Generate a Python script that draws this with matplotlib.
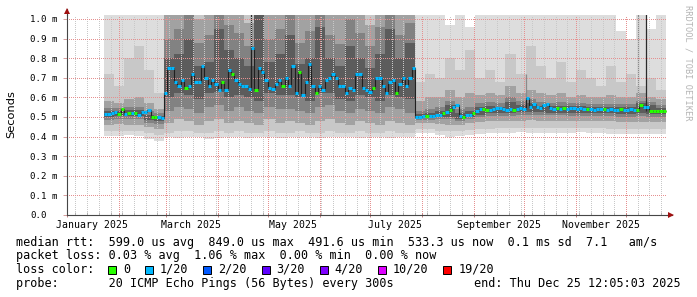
import numpy as np
import pandas as pd
import matplotlib
matplotlib.use("Agg")
import matplotlib.pyplot as plt
import matplotlib.dates as mdates
from matplotlib.patches import Rectangle
from matplotlib.transforms import blended_transform_factory

# graph window
t_start = "2025-01-01"
t_end = "2025-12-25 12:05"

# median rtt (ms), one value per 2-day bin from 2025-01-23
median_start = "2025-01-23"
median_jan_feb = [0.515, 0.515, 0.52, 0.525, 0.515, 0.54, 0.515, 0.52, 0.52, 0.52,
                  0.51, 0.525, 0.525, 0.535, 0.50, 0.50, 0.50, 0.495]
median_mar_jul = [0.62, 0.75, 0.75, 0.68, 0.66, 0.69, 0.65, 0.66, 0.72, 0.68,
                  0.68, 0.76, 0.70, 0.66, 0.69, 0.67, 0.64, 0.68, 0.64, 0.74,
                  0.72, 0.69, 0.67, 0.66, 0.66, 0.645, 0.85, 0.64, 0.75, 0.73,
                  0.69, 0.65, 0.645, 0.67, 0.69, 0.66, 0.70, 0.66, 0.76, 0.62,
                  0.73, 0.61, 0.68, 0.77, 0.66, 0.62, 0.66, 0.64, 0.69, 0.70,
                  0.72, 0.70, 0.66, 0.66, 0.62, 0.65, 0.64, 0.72, 0.72, 0.65,
                  0.64, 0.63, 0.65, 0.70, 0.70, 0.66, 0.62, 0.68, 0.69, 0.62,
                  0.67, 0.70, 0.66, 0.70, 0.75]
median_aug_dec = [0.50, 0.50, 0.505, 0.505, 0.505, 0.505, 0.51, 0.51, 0.52, 0.525,
                  0.535, 0.55, 0.56, 0.505, 0.50, 0.51, 0.51, 0.52, 0.53, 0.54,
                  0.54, 0.535, 0.535, 0.54, 0.545, 0.545, 0.54, 0.535, 0.54, 0.535,
                  0.54, 0.545, 0.54, 0.595, 0.55, 0.565, 0.55, 0.545, 0.56, 0.565,
                  0.545, 0.54, 0.545, 0.54, 0.545, 0.54, 0.545, 0.545, 0.54, 0.545,
                  0.54, 0.54, 0.54, 0.535, 0.54, 0.54, 0.54, 0.535, 0.54, 0.535,
                  0.535, 0.54, 0.535, 0.535, 0.54, 0.535, 0.535, 0.56, 0.55, 0.55,
                  0.53, 0.53, 0.53, 0.53, 0.53]

# lost pings out of 20 for each median bin
loss_jan_feb = [1, 1, 1, 1, 0, 0, 1, 0, 1, 0, 1, 1, 1, 1, 0, 0, 1, 1]
loss_mar_jul = [1, 1, 1, 1, 1, 1, 0, 1, 1, 1, 1, 1, 1, 1, 1, 1, 1, 0, 1, 1,
                0, 1, 1, 1, 1, 1, 1, 0, 1, 1, 1, 1, 1, 1, 1, 0, 1, 1, 1, 1,
                0, 1, 1, 1, 1, 0, 1, 1, 1, 1, 1, 1, 1, 1, 1, 1, 1, 1, 1, 1,
                1, 1, 0, 1, 1, 1, 1, 1, 1, 0, 1, 1, 1, 1, 1]
loss_aug_dec = [1, 1, 1, 0, 1, 1, 1, 1, 0, 1, 0, 1, 1, 1, 0, 1, 1, 0, 1, 1,
                0, 0, 1, 1, 1, 1, 1, 1, 1, 0, 1, 1, 1, 1, 1, 1, 1, 1, 1, 1,
                1, 1, 0, 1, 0, 1, 1, 1, 1, 1, 1, 0, 1, 1, 1, 1, 0, 1, 1, 1,
                1, 0, 1, 1, 1, 1, 0, 0, 1, 1, 0, 0, 0, 0, 0]

# smoke: nested ping spread bands (ms), 6-day bins from 2025-01-23, outer -> inner
smoke_start = "2025-01-23"
smoke1_lo = [0.405, 0.405, 0.41, 0.405, 0.39, 0.38,
             0.40, 0.395, 0.40, 0.40, 0.39, 0.395, 0.40, 0.40, 0.395, 0.40, 0.40, 0.395, 0.40,
             0.40, 0.40, 0.395, 0.40, 0.40, 0.40, 0.395, 0.40, 0.40, 0.395, 0.40, 0.40,
             0.42, 0.42, 0.41, 0.40, 0.405, 0.41, 0.415, 0.42, 0.42, 0.42, 0.425, 0.42, 0.42,
             0.42, 0.42, 0.42, 0.425, 0.42, 0.42, 0.415, 0.415, 0.415, 0.415, 0.415, 0.415]
smoke1_hi = [1.05, 1.05, 1.05, 1.05, 1.05, 1.05,
             1.05, 1.05, 1.05, 1.05, 1.05, 1.05, 1.05, 1.05, 1.05, 1.05, 1.05, 1.05, 1.05,
             1.05, 1.05, 1.05, 1.05, 1.05, 1.05, 1.05, 1.05, 1.05, 1.05, 1.05, 1.05,
             1.05, 1.05, 1.05, 0.97, 1.05, 0.96, 1.05, 1.05, 1.05, 1.05, 1.05, 1.05, 1.05,
             1.05, 1.05, 1.05, 1.05, 1.05, 1.05, 1.05, 0.94, 0.90, 1.05, 0.95, 1.05]
smoke2_lo = [0.43, 0.43, 0.43, 0.43, 0.42, 0.41,
             0.42, 0.43, 0.43, 0.42, 0.42, 0.43, 0.42, 0.43, 0.42, 0.42, 0.43, 0.42, 0.42,
             0.43, 0.42, 0.42, 0.43, 0.42, 0.42, 0.43, 0.42, 0.42, 0.43, 0.42, 0.42,
             0.44, 0.44, 0.43, 0.43, 0.43, 0.435, 0.44, 0.44, 0.445, 0.445, 0.445, 0.445, 0.445,
             0.445, 0.445, 0.445, 0.445, 0.445, 0.445, 0.44, 0.44, 0.44, 0.44, 0.44, 0.44]
smoke2_hi = [0.72, 0.66, 0.80, 0.86, 0.74, 0.62,
             1.05, 1.05, 1.05, 1.05, 1.05, 1.05, 1.05, 1.05, 1.05, 1.05, 1.05, 1.05, 1.05,
             1.05, 1.05, 1.05, 1.05, 1.05, 1.05, 1.05, 1.05, 1.05, 1.05, 1.05, 1.05,
             0.68, 0.72, 0.70, 0.80, 0.74, 0.84, 0.70, 0.74, 0.68, 0.82, 0.72, 0.86, 0.76,
             0.70, 0.78, 0.68, 0.74, 0.70, 0.66, 0.76, 0.68, 0.72, 0.66, 0.70, 0.64]
smoke3_lo = [0.46, 0.465, 0.46, 0.46, 0.45, 0.44,
             0.47, 0.49, 0.48, 0.46, 0.48, 0.49, 0.47, 0.48, 0.47, 0.46, 0.49, 0.47, 0.48,
             0.47, 0.46, 0.48, 0.49, 0.47, 0.46, 0.48, 0.47, 0.46, 0.48, 0.47, 0.46,
             0.47, 0.47, 0.465, 0.46, 0.46, 0.47, 0.475, 0.48, 0.48, 0.48, 0.48, 0.485, 0.48,
             0.48, 0.48, 0.48, 0.48, 0.48, 0.48, 0.48, 0.475, 0.475, 0.475, 0.475, 0.475]
smoke3_hi = [0.58, 0.57, 0.59, 0.60, 0.57, 0.54,
             1.05, 1.05, 1.05, 1.00, 1.05, 1.05, 1.05, 1.05, 0.98, 1.05, 1.05, 1.05, 1.05,
             1.02, 1.05, 1.05, 1.05, 1.05, 1.05, 1.05, 0.97, 1.05, 1.05, 1.05, 1.05,
             0.58, 0.60, 0.60, 0.64, 0.60, 0.62, 0.61, 0.62, 0.61, 0.66, 0.62, 0.64, 0.62,
             0.61, 0.62, 0.60, 0.61, 0.60, 0.60, 0.61, 0.60, 0.60, 0.62, 0.60, 0.59]
smoke4_lo = [0.485, 0.49, 0.49, 0.49, 0.47, 0.465,
             0.53, 0.55, 0.54, 0.52, 0.55, 0.56, 0.53, 0.55, 0.53, 0.52, 0.55, 0.54, 0.54,
             0.53, 0.52, 0.55, 0.56, 0.53, 0.52, 0.54, 0.53, 0.52, 0.55, 0.54, 0.52,
             0.485, 0.485, 0.49, 0.49, 0.48, 0.49, 0.50, 0.505, 0.505, 0.505, 0.51, 0.51, 0.51,
             0.51, 0.51, 0.505, 0.505, 0.505, 0.505, 0.505, 0.50, 0.50, 0.505, 0.50, 0.50]
smoke4_hi = [0.545, 0.545, 0.55, 0.55, 0.53, 0.52,
             0.90, 0.95, 1.05, 0.88, 0.92, 1.05, 0.97, 0.93, 0.86, 1.05, 0.90, 0.95, 1.05,
             0.88, 0.94, 1.05, 0.92, 0.87, 1.00, 0.93, 0.86, 0.96, 1.05, 0.92, 0.98,
             0.53, 0.54, 0.55, 0.58, 0.54, 0.55, 0.57, 0.575, 0.57, 0.60, 0.58, 0.59, 0.575,
             0.57, 0.575, 0.57, 0.57, 0.565, 0.565, 0.565, 0.565, 0.565, 0.58, 0.575, 0.56]
smoke5_lo = [0.50, 0.505, 0.505, 0.505, 0.485, 0.48,
             0.60, 0.62, 0.61, 0.59, 0.62, 0.63, 0.60, 0.61, 0.60, 0.58, 0.62, 0.61, 0.61,
             0.60, 0.58, 0.62, 0.62, 0.59, 0.58, 0.61, 0.60, 0.58, 0.61, 0.60, 0.59,
             0.495, 0.495, 0.50, 0.50, 0.49, 0.50, 0.51, 0.52, 0.52, 0.52, 0.525, 0.525, 0.525,
             0.52, 0.52, 0.52, 0.52, 0.52, 0.52, 0.52, 0.515, 0.515, 0.52, 0.515, 0.515]
smoke5_hi = [0.53, 0.53, 0.535, 0.535, 0.51, 0.505,
             0.80, 0.82, 0.90, 0.76, 0.78, 0.95, 0.84, 0.80, 0.76, 1.05, 0.78, 0.82, 0.92,
             0.77, 0.80, 0.96, 0.80, 0.76, 0.86, 0.80, 0.75, 0.82, 0.95, 0.80, 0.88,
             0.515, 0.52, 0.53, 0.56, 0.52, 0.53, 0.55, 0.555, 0.55, 0.575, 0.56, 0.57, 0.555,
             0.555, 0.555, 0.555, 0.555, 0.55, 0.55, 0.55, 0.55, 0.55, 0.57, 0.56, 0.545]

# single-bin outliers that show up as thin lines
dark_spike_dates = ["2025-04-21", "2025-12-13"]
dark_spike_lo = [0.62, 0.53]
dark_spike_hi = [1.05, 1.05]
pale_spike_dates = ["2025-10-02", "2025-12-08"]
pale_spike_lo = [0.55, 0.55]
pale_spike_hi = [0.72, 1.05]

ytick_values = [0.0, 0.1, 0.2, 0.3, 0.4, 0.5, 0.6, 0.7, 0.8, 0.9, 1.0]
ytick_labels = ["0.0", "0.1 m", "0.2 m", "0.3 m", "0.4 m", "0.5 m",
                "0.6 m", "0.7 m", "0.8 m", "0.9 m", "1.0 m"]
label_months = [1, 3, 5, 7, 9, 11]
month_labels = ["January 2025", "March 2025", "May 2025", "July 2025",
                "September 2025", "November 2025"]

loss_levels = [0, 1, 2, 3, 4, 10, 19]
loss_names = ["0", "1/20", "2/20", "3/20", "4/20", "10/20", "19/20"]
loss_colors = ["#26ff00", "#00b8ff", "#0059ff", "#5e00ff", "#7e00ff", "#dd00ff", "#ff0000"]

legend_rows = [
    "median rtt:  599.0 us avg  849.0 us max  491.6 us min  533.3 us now  0.1 ms sd  7.1   am/s",
    "packet loss: 0.03 % avg  1.06 % max  0.00 % min  0.00 % now",
    "loss color:",
    "probe:       20 ICMP Echo Pings (56 Bytes) every 300s",
]
end_text = "end: Thu Dec 25 12:05:03 2025"

MONO = "DejaVu Sans Mono"
W, H = 697, 297
AXIS_COL = "#464646"


def color_for_loss(n):
    c = loss_colors[0]
    for lvl, col in zip(loss_levels, loss_colors):
        if n >= lvl:
            c = col
    return c


fig = plt.figure(figsize=(W / 100, H / 100), dpi=100)
fig.patch.set_facecolor("white")
ax = fig.add_axes([67 / W, 82 / H, 600 / W, 200 / H])

# smoke
s_edges = mdates.date2num(pd.date_range(smoke_start, periods=len(smoke1_lo) + 1, freq="6D"))
bands = [(smoke1_lo, smoke1_hi, "#dddddd"), (smoke2_lo, smoke2_hi, "#c8c8c8"),
         (smoke3_lo, smoke3_hi, "#a2a2a2"), (smoke4_lo, smoke4_hi, "#828282"),
         (smoke5_lo, smoke5_hi, "#5c5c5c")]
for lo, hi, col in bands:
    ax.stairs(np.array(hi), s_edges, baseline=np.array(lo), fill=True,
              color=col, lw=0, zorder=1)

ax.vlines(mdates.date2num(pd.to_datetime(pale_spike_dates)), pale_spike_lo, pale_spike_hi,
          color="#8a8a8a", lw=0.9, zorder=1.5)
ax.vlines(mdates.date2num(pd.to_datetime(dark_spike_dates)), dark_spike_lo, dark_spike_hi,
          color="#2a2a2a", lw=0.9, zorder=1.5)

# median line coloured by loss
med = np.array(median_jan_feb + median_mar_jul + median_aug_dec)
loss = loss_jan_feb + loss_mar_jul + loss_aug_dec
m_edges = mdates.date2num(pd.date_range(median_start, periods=len(med) + 1, freq="2D"))
ax.stairs(med, m_edges, baseline=None, color="#202020", lw=0.8, zorder=4)
ax.hlines(med, m_edges[:-1], m_edges[1:], colors=[color_for_loss(n) for n in loss],
          lw=2.2, zorder=5)

ax.set_xlim(mdates.date2num(pd.Timestamp(t_start)), mdates.date2num(pd.Timestamp(t_end)))
ax.set_ylim(0, 1.0204)

# grid: 1px dots like rrdtool
ax.set_xticks(mdates.date2num(pd.date_range(t_start, t_end, freq="MS")))
ax.set_xticks(mdates.date2num(pd.date_range("2025-01-06", t_end, freq="7D")), minor=True)
ax.set_yticks(ytick_values)
ax.set_axisbelow(False)
ax.grid(which="major", color="#e59090", linestyle=(0, (1, 2)), lw=0.72, antialiased=False)
ax.grid(which="minor", axis="x", color="#c8c8c8", linestyle=(0, (1, 2)), lw=0.72,
        antialiased=False)
ax.tick_params(labelbottom=False, labelleft=False)
ax.tick_params(axis="x", which="major", length=3, direction="inout", color="#c08080", width=0.7)
ax.tick_params(axis="x", which="minor", length=2, direction="in", color="#b0b0b0", width=0.7)
ax.tick_params(axis="y", which="major", length=3, direction="out", color="#d8a0a0", width=0.7)

for side in ["top", "right"]:
    ax.spines[side].set_visible(False)
for side in ["left", "bottom"]:
    ax.spines[side].set_color(AXIS_COL)
    ax.spines[side].set_linewidth(0.8)
    ax.spines[side].set_zorder(6)

# axis extensions with arrows
ax.plot([0, 0], [1, 1.03], transform=ax.transAxes, color=AXIS_COL, lw=0.8, clip_on=False)
ax.plot([1, 1.008], [0, 0], transform=ax.transAxes, color=AXIS_COL, lw=0.8, clip_on=False)
ax.plot([0], [1.022], transform=ax.transAxes, marker="^", ms=4, color="#a01010",
        clip_on=False, mew=0)
ax.plot([1.006], [0], transform=ax.transAxes, marker=">", ms=4, color="#a01010",
        clip_on=False, mew=0)

# tick labels
ylab_tr = blended_transform_factory(fig.transFigure, ax.transData)
for v, lab in zip(ytick_values, ytick_labels):
    ax.text(30 / W, v, lab, transform=ylab_tr, ha="left", va="center_baseline",
            family=MONO, fontsize=6.6)
xlab_tr = blended_transform_factory(ax.transData, fig.transFigure)
for m, lab in zip(label_months, month_labels):
    ax.text(mdates.date2num(pd.Timestamp(2025, m, 16)), 1 - 227.8 / H, lab,
            transform=xlab_tr, ha="center", va="baseline", family=MONO, fontsize=7.1)

fig.text(11 / W, 1 - 114 / H, "Seconds", rotation=90, ha="center", va="center",
         family="DejaVu Sans", fontsize=8.2)
fig.text(688 / W, 1 - 5 / H, "RRDTOOL / TOBI OETIKER", rotation=270, ha="center",
         va="top", family=MONO, fontsize=6.2, color="#b4b4b4")

# legend text
baselines = [245.6, 259.3, 273.0, 286.8]
for row, yb in zip(legend_rows, baselines):
    fig.text(16 / W, 1 - yb / H, row, ha="left", va="baseline", family=MONO, fontsize=8.45)
fig.text(681 / W, 1 - baselines[3] / H, end_text, ha="right", va="baseline",
         family=MONO, fontsize=8.45)

bx = 108
for name, col in zip(loss_names, loss_colors):
    fig.add_artist(Rectangle((bx / W, 1 - 273.5 / H), 8 / W, 8 / H, transform=fig.transFigure,
                             facecolor=col, edgecolor="black", lw=0.7))
    fig.text((bx + 15) / W, 1 - baselines[2] / H, name, ha="left", va="baseline",
             family=MONO, fontsize=8.45)
    bx += 30 + 7.06 * len(name)

fig.savefig("out.png", dpi=100)
